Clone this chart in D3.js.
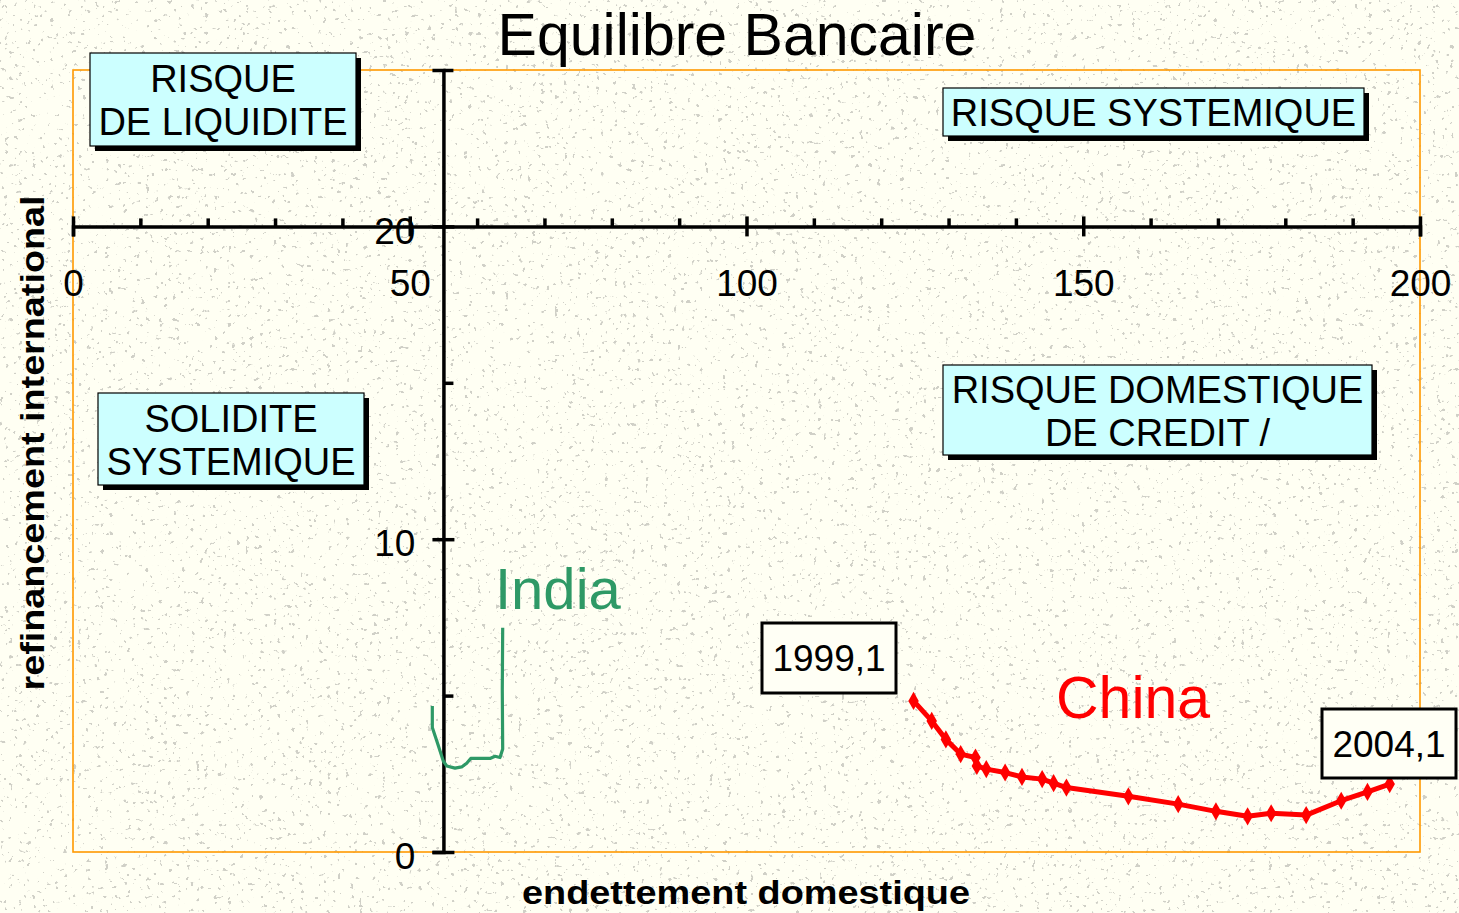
<!DOCTYPE html>
<html>
<head>
<meta charset="utf-8">
<script src="https://cdn.jsdelivr.net/npm/d3@7"></script>
<style>
  html, body { margin: 0; padding: 0; background: #fffff3; }
  svg { display: block; font-family: "Liberation Sans", Arial, sans-serif; }
</style>
</head>
<body>
<svg id="chart" width="1459" height="913"></svg>
<script>
// ---- data ----
const chinaX = [124.8, 127.5, 129.6, 131.8, 134.0, 134.2, 135.6, 138.4, 140.9, 143.9, 145.6, 147.5, 156.7, 164.1, 169.7, 174.4, 177.9, 183.1, 188.3, 192.2, 195.5];
const chinaY = [4.83, 4.19, 3.60, 3.13, 3.02, 2.75, 2.65, 2.54, 2.40, 2.33, 2.20, 2.06, 1.78, 1.53, 1.30, 1.14, 1.24, 1.18, 1.64, 1.92, 2.17];
const indiaX = [53.35, 53.35, 54.09, 54.98, 55.49, 56.72, 57.71, 58.46, 59.05, 61.92, 62.66, 63.40, 63.80, 63.74, 63.80];
const indiaY = [4.67, 3.98, 3.50, 2.91, 2.75, 2.68, 2.72, 2.84, 2.99, 2.99, 3.06, 3.02, 3.29, 5.20, 7.17];
const xMajorTicks = [0, 50, 100, 150, 200];
const xMinorTicks = [10, 20, 30, 40, 60, 70, 80, 90, 110, 120, 130, 140, 160, 170, 180, 190];
const yMajorTicks = [0, 10, 20];
const yMinorTicks = [5, 15, 25];
const titleText = "Equilibre Bancaire";
const xLabel = "endettement domestique";
const yLabel = "refinancement international";
const startLabel = "1999,1";
const endLabel = "2004,1";

const svg = d3.select("#chart");
const W = 1459, H = 913;

// background with speckles
const defs = svg.append("defs");
const f = defs.append("filter").attr("id", "speck").attr("x", 0).attr("y", 0).attr("width", "100%").attr("height", "100%");
f.append("feTurbulence").attr("type", "fractalNoise").attr("baseFrequency", 0.22).attr("numOctaves", 2).attr("seed", 11).attr("result", "n");
f.append("feColorMatrix").attr("in", "n").attr("type", "matrix")
  .attr("values", "0 0 0 0 0.4  0 0 0 0 0.4  0 0 0 0 0.37  24 0 0 0 -16.6");
svg.append("rect").attr("width", W).attr("height", H).attr("fill", "#fffff3");
svg.append("rect").attr("width", W).attr("height", H).attr("filter", "url(#speck)").attr("opacity", 0.55);

// scales
const x = d3.scaleLinear().domain([0, 200]).range([73, 1420]);
const y = d3.scaleLinear().domain([0, 25]).range([852, 70]);
const yCross = 20, xCross = 55;

// plot frame
svg.append("rect").attr("x", x(0)).attr("y", y(25)).attr("width", x(200) - x(0)).attr("height", y(0) - y(25))
  .attr("fill", "none").attr("stroke", "#ff9900").attr("stroke-width", 1.6);

// x axis (at y=20)
const xg = svg.append("g").attr("transform", `translate(0,${y(yCross)})`);
xg.append("g").call(d3.axisTop(x).tickValues(xMinorTicks).tickSize(8).tickFormat(""))
  .call(g => g.select(".domain").remove());
xg.append("g").call(d3.axisTop(x).tickValues(xMajorTicks).tickSize(10).tickFormat(""))
  .call(g => g.select(".domain").remove());
xg.append("g").call(d3.axisBottom(x).tickValues(xMajorTicks).tickSize(10).tickFormat(""));
xg.selectAll("line").attr("stroke", "#000").attr("stroke-width", 3.5);
xg.selectAll(".domain").attr("stroke", "#000").attr("stroke-width", 3.5);
xg.append("g").call(d3.axisBottom(x).tickValues(xMajorTicks).tickSize(0).tickPadding(43).tickFormat(d3.format("d")))
  .call(g => g.select(".domain").remove())
  .selectAll("text").attr("font-size", 37).attr("fill", "#000").attr("font-family", "Liberation Sans, Arial, sans-serif");

// y axis (at x=55)
const yg = svg.append("g").attr("transform", `translate(${x(xCross)},0)`);
yg.append("g").call(d3.axisRight(y).tickValues(yMinorTicks).tickSize(10).tickFormat(""))
  .call(g => g.select(".domain").remove());
yg.append("g").call(d3.axisRight(y).tickValues(yMajorTicks).tickSize(11).tickFormat(""))
  .call(g => g.select(".domain").remove());
yg.append("g").call(d3.axisLeft(y).tickValues(yMajorTicks).tickSize(11).tickFormat(""));
yg.selectAll("line").attr("stroke", "#000").attr("stroke-width", 3.5);
yg.selectAll(".domain").attr("stroke", "#000").attr("stroke-width", 3.5);
yg.append("g").call(d3.axisLeft(y).tickValues(yMajorTicks).tickSize(0).tickPadding(28).tickFormat(d3.format("d")))
  .call(g => g.select(".domain").remove())
  .selectAll("text").attr("font-size", 37).attr("fill", "#000").attr("dy", "0.45em").attr("font-family", "Liberation Sans, Arial, sans-serif");

// lines
const line = d3.line().x(d => x(d[0])).y(d => y(d[1]));
const india = indiaX.map((v, i) => [v, indiaY[i]]);
const china = chinaX.map((v, i) => [v, chinaY[i]]);
svg.append("path").datum(india).attr("d", line).attr("fill", "none").attr("stroke", "#2e9966").attr("stroke-width", 3.2).attr("stroke-linejoin", "round");
svg.append("path").datum(china).attr("d", line).attr("fill", "none").attr("stroke", "#ff0000").attr("stroke-width", 5).attr("stroke-linejoin", "round");
svg.append("g").selectAll("path").data(china).join("path")
  .attr("transform", d => `translate(${x(d[0])},${y(d[1])})`)
  .attr("d", d3.symbol(d3.symbolDiamond, 95)).attr("fill", "#ff0000");

// series labels
svg.append("text").attr("x", 495).attr("y", 609).attr("font-size", 58).attr("fill", "#2e9966").text("India");
svg.append("text").attr("x", 1056).attr("y", 718).attr("font-size", 59).attr("fill", "#ff0000").text("China");

// point label boxes
function ptBox(x0, y0, w, h, label) {
  svg.append("rect").attr("x", x0).attr("y", y0).attr("width", w).attr("height", h)
    .attr("fill", "#fffff5").attr("stroke", "#000").attr("stroke-width", 3);
  svg.append("text").attr("x", x0 + w / 2).attr("y", y0 + h / 2 + 13).attr("text-anchor", "middle")
    .attr("font-size", 37).attr("fill", "#000").text(label);
}
ptBox(762, 623, 134, 70, startLabel);
ptBox(1322, 709, 134, 69, endLabel);

// quadrant boxes
function quadBox(x0, y0, w, h, lines) {
  svg.append("rect").attr("x", x0 + 5).attr("y", y0 + 5).attr("width", w).attr("height", h).attr("fill", "#000");
  svg.append("rect").attr("x", x0).attr("y", y0).attr("width", w).attr("height", h)
    .attr("fill", "#ccffff").attr("stroke", "#000").attr("stroke-width", 1.2);
  const lh = 43;
  const cy = y0 + h / 2 - (lines.length - 1) * lh / 2;
  lines.forEach((t, i) => {
    svg.append("text").attr("x", x0 + w / 2).attr("y", cy + i * lh + 14).attr("text-anchor", "middle")
      .attr("font-size", 38).attr("fill", "#000").text(t);
  });
}
quadBox(90, 53, 266, 93, ["RISQUE", "DE LIQUIDITE"]);
quadBox(943, 88, 421, 48, ["RISQUE SYSTEMIQUE"]);
quadBox(98, 393, 266, 92, ["SOLIDITE", "SYSTEMIQUE"]);
quadBox(943, 365, 429, 90, ["RISQUE DOMESTIQUE", "DE CREDIT /"]);

// title & axis titles
svg.append("text").attr("x", 737).attr("y", 55).attr("text-anchor", "middle").attr("font-size", 59).attr("fill", "#000").text(titleText);
svg.append("text").attr("x", 746).attr("y", 904).attr("text-anchor", "middle").attr("font-size", 34).attr("font-weight", "bold")
  .attr("textLength", 448).attr("lengthAdjust", "spacingAndGlyphs").attr("fill", "#000").text(xLabel);
svg.append("text").attr("transform", "translate(44,443) rotate(-90)").attr("text-anchor", "middle").attr("font-size", 34).attr("font-weight", "bold")
  .attr("textLength", 495).attr("lengthAdjust", "spacingAndGlyphs").attr("fill", "#000").text(yLabel);
</script>
</body>
</html>
